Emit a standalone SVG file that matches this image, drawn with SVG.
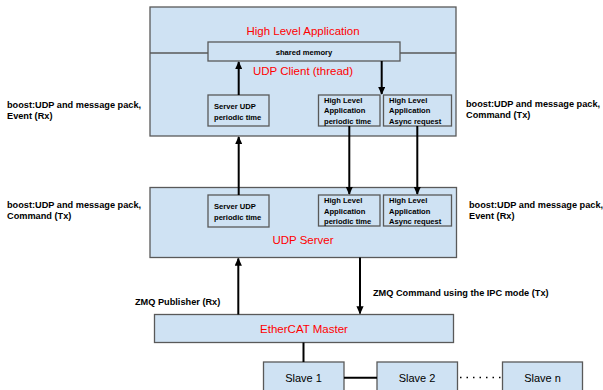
<svg xmlns="http://www.w3.org/2000/svg" width="603" height="390" viewBox="0 0 603 390">
<style>
.box{fill:#cfe2f3;stroke:#595959;stroke-width:1.3}
.red{font-family:"Liberation Sans",Arial,sans-serif;font-size:11.5px;fill:#ff0000;text-anchor:middle}
.sm{font-family:"Liberation Sans",Arial,sans-serif;font-size:7.6px;font-weight:bold;fill:#000}
.lbl{font-family:"Liberation Sans",Arial,sans-serif;font-size:9.2px;font-weight:bold;fill:#000}
.slv{font-family:"Liberation Sans",Arial,sans-serif;font-size:11px;fill:#000;text-anchor:middle}
.ln{stroke:#000;stroke-width:2;fill:none}
</style>
<defs>
<marker id="ah" viewBox="0 0 10 10" refX="9" refY="5" markerWidth="4" markerHeight="3.6" orient="auto" markerUnits="strokeWidth" preserveAspectRatio="none">
<path d="M0,0 L10,5 L0,10 z" fill="#000"/>
</marker>
</defs>
<rect width="603" height="390" fill="#fff"/>

<g id="udp-client">
<rect class="box" x="150" y="7" width="306" height="129"/>
<line x1="150" y1="53" x2="208" y2="53" stroke="#595959" stroke-width="1.3"/>
<line x1="400" y1="53" x2="456" y2="53" stroke="#595959" stroke-width="1.3"/>
<text class="red" x="303" y="35">High Level Application</text>
<text class="red" x="303" y="75">UDP Client (thread)</text>
</g>
<g id="shared-memory">
<rect class="box" x="208" y="42" width="192" height="19"/>
<text class="sm" x="304" y="54.5" text-anchor="middle">shared memory</text>
</g>
<g id="client-server-udp">
<rect class="box" x="208" y="95" width="61" height="31"/>
<text class="sm" x="214" y="109">Server UDP</text>
<text class="sm" x="214" y="119.5">periodic time</text>
</g>
<g id="client-hla-periodic">
<rect class="box" x="318.5" y="95" width="61.5" height="31"/>
<text class="sm" x="324" y="102.5">High Level</text>
<text class="sm" x="324" y="113">Application</text>
<text class="sm" x="324" y="123.5">periodic time</text>
</g>
<g id="client-hla-async">
<rect class="box" x="383.5" y="95" width="68" height="31"/>
<text class="sm" x="389" y="102.5">High Level</text>
<text class="sm" x="389" y="113">Application</text>
<text class="sm" x="389" y="123.5">Async request</text>
</g>

<g id="udp-server">
<rect class="box" x="150" y="187.5" width="306.5" height="70"/>
<text class="red" x="303" y="244">UDP Server</text>
</g>
<g id="server-server-udp">
<rect class="box" x="208" y="195" width="61" height="32"/>
<text class="sm" x="214" y="209">Server UDP</text>
<text class="sm" x="214" y="219.5">periodic time</text>
</g>
<g id="server-hla-periodic">
<rect class="box" x="318.5" y="195" width="61.5" height="31"/>
<text class="sm" x="324" y="203">High Level</text>
<text class="sm" x="324" y="213.5">Application</text>
<text class="sm" x="324" y="224">periodic time</text>
</g>
<g id="server-hla-async">
<rect class="box" x="383.5" y="195" width="68" height="31"/>
<text class="sm" x="389" y="203">High Level</text>
<text class="sm" x="389" y="213.5">Application</text>
<text class="sm" x="389" y="224">Async request</text>
</g>

<g id="ethercat-master">
<rect class="box" x="154.5" y="314.5" width="299" height="28"/>
<text class="red" x="304" y="333">EtherCAT Master</text>
</g>
<g id="slave-1">
<rect class="box" x="263.5" y="362" width="80.5" height="40"/>
<text class="slv" x="303.5" y="382">Slave 1</text>
</g>
<g id="slave-2">
<rect class="box" x="377" y="362" width="80.5" height="40"/>
<text class="slv" x="417" y="382">Slave 2</text>
</g>
<g id="slave-n">
<rect class="box" x="502.5" y="362" width="80" height="40"/>
<text class="slv" x="542.5" y="382">Slave n</text>
</g>

<g id="labels">
<text class="lbl" x="7" y="108">boost:UDP and message pack,</text>
<text class="lbl" x="7" y="118.5">Event (Rx)</text>
<text class="lbl" x="7" y="208">boost:UDP and message pack,</text>
<text class="lbl" x="7" y="218.5">Command (Tx)</text>
<text class="lbl" x="466" y="107">boost:UDP and message pack,</text>
<text class="lbl" x="466" y="117.5">Command (Tx)</text>
<text class="lbl" x="469" y="208">boost:UDP and message pack,</text>
<text class="lbl" x="469" y="218.5">Event (Rx)</text>
<text class="lbl" x="135" y="305">ZMQ Publisher (Rx)</text>
<text class="lbl" x="373" y="296">ZMQ Command using the IPC mode (Tx)</text>
</g>

<g id="connectors">
<line class="ln" x1="238.7" y1="95" x2="238.7" y2="62" marker-end="url(#ah)"/>
<line class="ln" x1="381.7" y1="61" x2="381.7" y2="94" marker-end="url(#ah)"/>
<line class="ln" x1="238.7" y1="195" x2="238.7" y2="137" marker-end="url(#ah)"/>
<line class="ln" x1="349.3" y1="126" x2="349.3" y2="194" marker-end="url(#ah)"/>
<line class="ln" x1="417.3" y1="126" x2="417.3" y2="194" marker-end="url(#ah)"/>
<line class="ln" x1="238.3" y1="314.5" x2="238.3" y2="258.5" marker-end="url(#ah)"/>
<line class="ln" x1="360" y1="257.5" x2="360" y2="313.5" marker-end="url(#ah)"/>
<line class="ln" x1="303.5" y1="342.5" x2="303.5" y2="362"/>
<line class="ln" x1="344" y1="377.7" x2="377" y2="377.7"/>
<line x1="460" y1="377.5" x2="502" y2="377.5" stroke="#000" stroke-width="1.5" stroke-dasharray="1.5,5"/>
</g>
</svg>
